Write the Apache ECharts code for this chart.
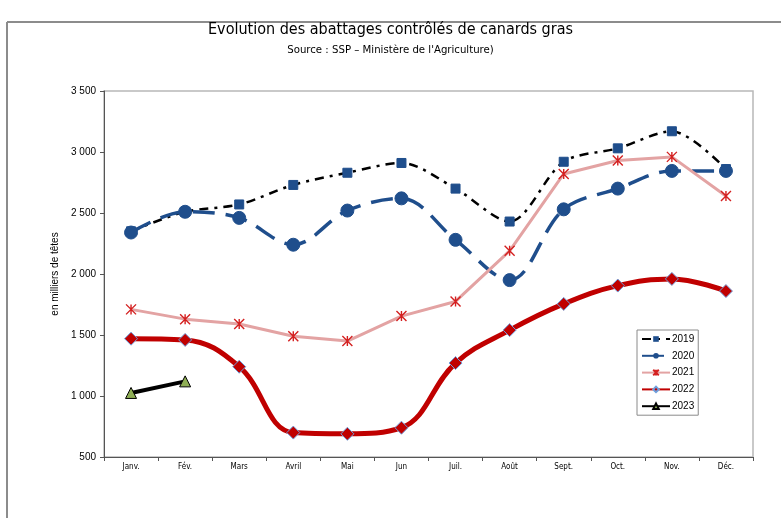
<!DOCTYPE html>
<html><head><meta charset="utf-8">
<script src="https://cdn.jsdelivr.net/npm/echarts@6/dist/echarts.min.js"></script>
<style>html,body{margin:0;padding:0;background:#fff}#c{width:781px;height:518px}</style>
</head><body><div id="c"></div>
<script>
const months = ['Janv.','Fév.','Mars','Avril','Mai','Jun','Juil.','Août','Sept.','Oct.','Nov.','Déc.'];
const s2019 = [2350,2510,2570,2730,2830,2910,2700,2430,2920,3030,3170,2860];
const s2020 = [2340,2510,2460,2240,2520,2620,2280,1950,2530,2700,2845,2845];
const s2021 = [1710,1630,1590,1490,1450,1655,1775,2190,2820,2930,2960,2640];
const s2022 = [1470,1460,1240,700,690,740,1270,1540,1755,1905,1960,1860];
const s2023 = [1025,1120,null,null,null,null,null,null,null,null,null,null];
const yTicks = {min:500, max:3500, interval:500};

const chart = echarts.init(document.getElementById('c'));
const star = 'path://M0,0L10,10M10,0L0,10M5,0L5,10';
chart.setOption({
  animation:false,
  title:[
    {text:'Evolution des abattages contrôlés de canards gras', left:'center', top:17,
     textStyle:{fontFamily:'DejaVu Sans Condensed, Liberation Sans Narrow, sans-serif', fontSize:16, fontWeight:'normal', color:'#000'}},
    {text:"Source : SSP – Ministère de l'Agriculture)", left:'center', top:40,
     textStyle:{fontFamily:'DejaVu Sans Condensed, Liberation Sans Narrow, sans-serif', fontSize:11.3, fontWeight:'normal', color:'#000'}}
  ],
  graphic:[
    {type:'line', shape:{x1:7,y1:22,x2:781,y2:22}, style:{stroke:'#8c8c8c', lineWidth:2}},
    {type:'line', shape:{x1:7,y1:22,x2:7,y2:518}, style:{stroke:'#8c8c8c', lineWidth:2}}
  ],
  grid:{left:104, right:28, top:91, bottom:61, show:true, borderColor:'#b8b8b8', borderWidth:1.5},
  legend:{
    orient:'vertical', left:637, top:330, width:61,
    itemWidth:28, itemHeight:7, itemGap:6.8,
    padding:[4,4,4,4], borderColor:'#8a8a8a', borderWidth:1, backgroundColor:'#fff',
    textStyle:{fontFamily:'Liberation Sans, Arial, sans-serif', fontSize:10, color:'#000', padding:[0,0,0,-3]},
    data:['2019','2020','2021','2022','2023']
  },
  xAxis:{type:'category', data:months, boundaryGap:true,
    axisLine:{lineStyle:{color:'#555', width:1}},
    axisTick:{show:true, length:4, lineStyle:{color:'#555'}},
    axisLabel:{fontFamily:'Liberation Sans Narrow, DejaVu Sans Condensed, sans-serif', fontSize:8, color:'#000', margin:6}},
  yAxis:{type:'value', min:yTicks.min, max:yTicks.max, interval:yTicks.interval,
    name:'en milliers de têtes', nameLocation:'middle', nameGap:40, nameRotate:90,
    nameTextStyle:{fontFamily:'Liberation Sans, Arial, sans-serif', fontSize:10, color:'#000'},
    axisLine:{show:true, lineStyle:{color:'#555', width:1}},
    axisTick:{show:true, length:4, lineStyle:{color:'#555'}},
    splitLine:{show:false},
    axisLabel:{fontFamily:'Liberation Sans, Arial, sans-serif', fontSize:10, color:'#000', margin:8,
      formatter:v=>v>=1000? Math.floor(v/1000)+' '+String(v%1000).padStart(3,'0') : String(v)}},
  series:[
    {name:'2019', type:'line', data:s2019, smooth:0.3,
     lineStyle:{color:'#000', width:2.5, type:[9,6,3,6]},
     symbol:'rect', symbolSize:9, itemStyle:{color:'#1f4e8c', borderColor:'#1f4e8c'}, z:2},
    {name:'2020', type:'line', data:s2020, smooth:0.35,
     lineStyle:{color:'#1f4e8c', width:3.5, type:[22,11]},
     symbol:'circle', symbolSize:13, itemStyle:{color:'#1f4e8c', borderColor:'#1f4e8c'}, z:3},
    {name:'2021', type:'line', data:s2021, smooth:false,
     lineStyle:{color:'#e3a3a3', width:3},
     symbol:star, symbolSize:10, itemStyle:{color:'rgba(0,0,0,0)', borderColor:'#d42020', borderWidth:1.4}, z:4},
    {name:'2022', type:'line', data:s2022, smooth:0.4,
     lineStyle:{color:'#c00000', width:5},
     symbol:'diamond', symbolSize:13, itemStyle:{color:'#c00000', borderColor:'#6f9fdc', borderWidth:1}, z:5},
    {name:'2023', type:'line', data:s2023, smooth:false,
     lineStyle:{color:'#000', width:4},
     symbol:'triangle', symbolSize:11, itemStyle:{color:'#8fae55', borderColor:'#000', borderWidth:1}, z:6}
  ]
});
</script></body></html>
